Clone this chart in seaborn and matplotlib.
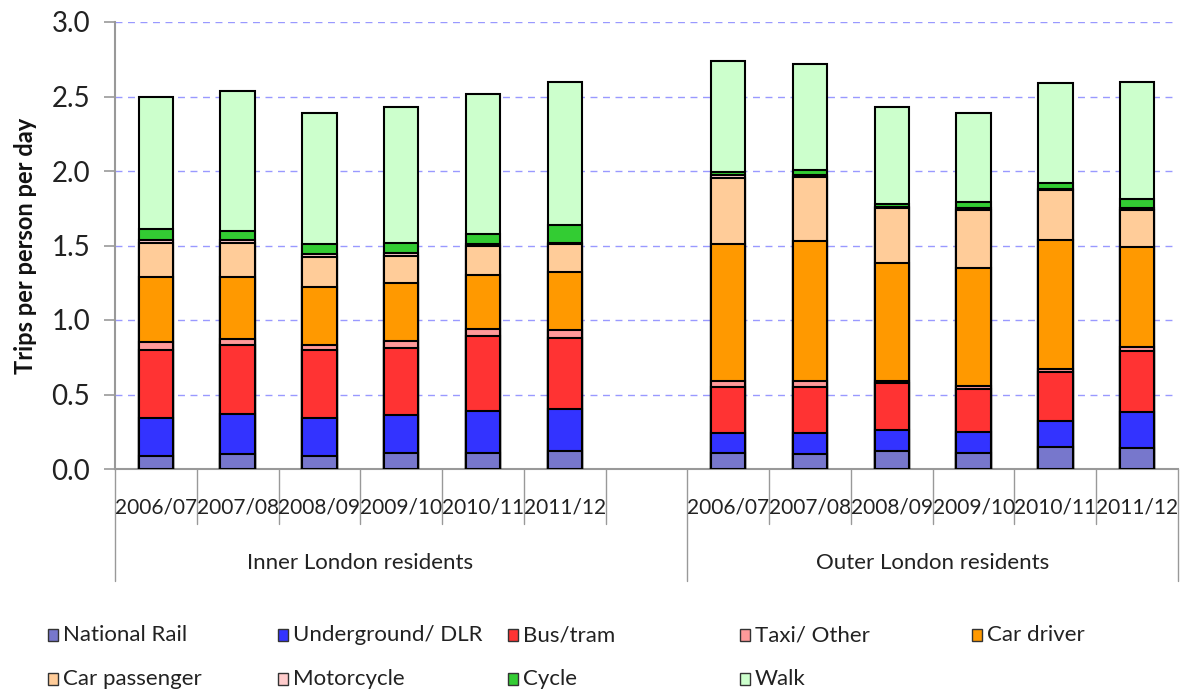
import numpy as np
import pandas as pd
import matplotlib
matplotlib.use("Agg")
import matplotlib.pyplot as plt
from matplotlib.patches import Rectangle
import matplotlib.transforms as mtransforms
import seaborn as sns

# ---- data -------------------------------------------------------------
periods = ["2006/07", "2007/08", "2008/09", "2009/10", "2010/11", "2011/12"]
groups = ["Inner London residents", "Outer London residents"]
modes = ["National Rail", "Underground/ DLR", "Bus/tram", "Taxi/ Other",
         "Car driver", "Car passenger", "Motorcycle", "Cycle", "Walk"]
colors = ["#7777CC", "#3333FF", "#FF3333", "#FF9999", "#FF9900",
          "#FFCC99", "#FFCCCC", "#33CC33", "#CCFFCC"]

# trips per person per day; first six values inner London, last six outer London
national_rail = [0.09, 0.10, 0.09, 0.11, 0.11, 0.12, 0.11, 0.10, 0.12, 0.11, 0.15, 0.14]
underground = [0.25, 0.27, 0.25, 0.25, 0.28, 0.28, 0.13, 0.14, 0.14, 0.14, 0.17, 0.24]
bus_tram = [0.46, 0.46, 0.46, 0.45, 0.50, 0.48, 0.31, 0.31, 0.32, 0.29, 0.33, 0.41]
taxi_other = [0.05, 0.04, 0.03, 0.05, 0.05, 0.05, 0.04, 0.04, 0.01, 0.02, 0.02, 0.03]
car_driver = [0.44, 0.42, 0.39, 0.39, 0.36, 0.39, 0.92, 0.94, 0.79, 0.79, 0.87, 0.67]
car_passenger = [0.23, 0.23, 0.20, 0.18, 0.20, 0.19, 0.44, 0.43, 0.37, 0.39, 0.33, 0.25]
motorcycle = [0.02, 0.02, 0.02, 0.02, 0.01, 0.01, 0.02, 0.01, 0.01, 0.01, 0.01, 0.01]
cycle = [0.07, 0.06, 0.07, 0.07, 0.07, 0.12, 0.02, 0.04, 0.02, 0.04, 0.04, 0.06]
walk = [0.89, 0.94, 0.88, 0.91, 0.94, 0.96, 0.75, 0.71, 0.65, 0.60, 0.67, 0.79]

series = [national_rail, underground, bus_tram, taxi_other, car_driver,
          car_passenger, motorcycle, cycle, walk]

# ---- table ------------------------------------------------------------
keys = [f"{g}|{p}" for g in groups for p in periods]
gap_key = "gap"
order = keys[:6] + [gap_key] + keys[6:]

df = pd.DataFrame({"slot": keys})
cum = np.cumsum(np.array(series), axis=0)
for i, m in enumerate(modes):
    df[m] = cum[i]

# ---- figure -----------------------------------------------------------
sns.set_theme(style="white")
plt.rcParams["font.family"] = ["Lato", "DejaVu Sans"]

fig = plt.figure(figsize=(11.84, 6.92), dpi=100)
ax = fig.add_axes([115 / 1184, 1 - 469 / 692, (1178 - 115) / 1184, (469 - 22) / 692])

# stacked bars: draw cumulative totals from the top segment down
for i in reversed(range(len(modes))):
    sns.barplot(data=df, x="slot", y=modes[i], order=order, color=colors[i],
                saturation=1, width=0.42, edgecolor="black", linewidth=1.5,
                ax=ax, zorder=3)

ax.set_xlim(-0.5, len(order) - 0.5)
ax.set_ylim(0, 3.0)
ax.set_yticks(np.arange(0, 3.01, 0.5))
ax.set_yticklabels([f"{v:.1f}" for v in np.arange(0, 3.01, 0.5)], fontsize=20,
                   color="#222222")
ax.yaxis.grid(True, linestyle=(0, (5, 4)), color="#9999FF", linewidth=1.0, zorder=0)
ax.set_axisbelow(True)
ax.tick_params(axis="y", left=True, length=8, width=1.2, color="#999999", pad=10)
ax.tick_params(axis="x", bottom=False, labelbottom=False)
ax.set_xlabel("")
ax.set_ylabel("Trips per person per day", fontsize=17, fontweight="bold",
              labelpad=10, color="#111111")

for s in ["top", "right"]:
    ax.spines[s].set_visible(False)
for s in ["left", "bottom"]:
    ax.spines[s].set_color("#999999")
    ax.spines[s].set_linewidth(1.5)

# category axis: period labels, group labels and separators
trans = mtransforms.blended_transform_factory(ax.transData, ax.transAxes)
px = 1 / (469 - 22)  # one pixel in axes-height units
short_y = -(524 - 469) * px
long_y = -(581 - 469) * px

for idx, key in enumerate(order):
    if key == gap_key:
        continue
    ax.text(idx, -(507 - 469) * px, key.split("|")[1], transform=trans,
            ha="center", va="center", fontsize=15, color="#222222")

sep_short = [0.5, 1.5, 2.5, 3.5, 4.5, 5.5, 7.5, 8.5, 9.5, 10.5, 11.5]
sep_long = [-0.5, 6.5, 12.5]
for x in sep_short:
    ax.plot([x, x], [0, short_y], transform=trans, color="#999999",
            linewidth=1.0, clip_on=False)
for x in sep_long:
    ax.plot([x, x], [0, long_y], transform=trans, color="#999999",
            linewidth=1.0, clip_on=False)

ax.text(2.5, -(563 - 469) * px, groups[0], transform=trans, ha="center",
        va="center", fontsize=16, color="#222222")
ax.text(9.5, -(563 - 469) * px, groups[1], transform=trans, ha="center",
        va="center", fontsize=16, color="#222222")

# legend: two rows of swatches
leg_x = [48, 278, 508, 740, 972]
leg_y = [635, 679]
for i, (m, c) in enumerate(zip(modes, colors)):
    row, col = divmod(i, 5)
    x0, yc = leg_x[col], leg_y[row]
    fig.patches.append(Rectangle((x0 / 1184, 1 - (yc + 6) / 692), 10 / 1184, 12 / 692,
                                 transform=fig.transFigure, facecolor=c,
                                 edgecolor="#333333", linewidth=1.0))
    fig.text((x0 + 15) / 1184, 1 - yc / 692, m, ha="left", va="center",
             fontsize=16, color="#222222")

fig.savefig("out.png", dpi=100)
